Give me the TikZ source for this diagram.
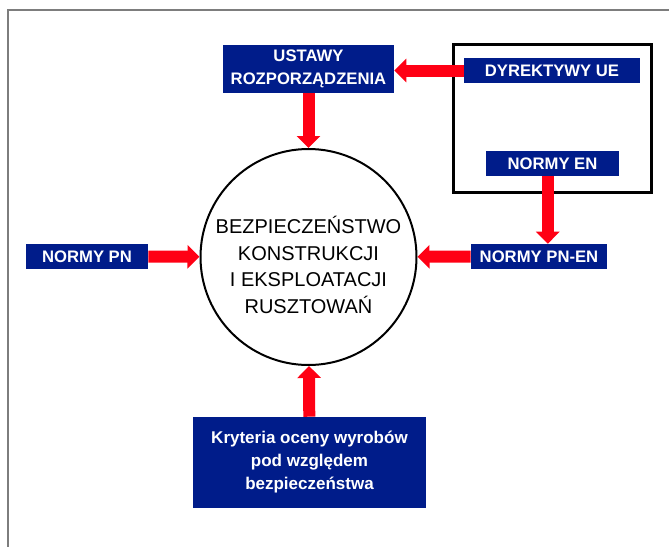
\documentclass[tikz,border=0pt]{standalone}
\usepackage{fontspec}
\setmainfont{Liberation Sans}
\usepackage{xcolor}
\definecolor{mynavy}{RGB}{0,28,138}
\definecolor{myred}{RGB}{255,0,20}
\definecolor{mygray}{RGB}{125,125,125}
\usetikzlibrary{arrows.meta}
\newcommand{\heighttag}{18.75pt}
\newcommand{\sizehub}{162pt}
\tikzset{
    common/.style={fill=mynavy, text=white, inner sep=0pt, align=center,
        font=\bfseries\fontsize{12.5}{17.5}\selectfont},
    tag/.style={common, minimum height=\heighttag},
    bigtag/.style={common, font=\bfseries\fontsize{12.75}{17.25}\selectfont},
    hub/.style={draw, circle, line width=1.5pt, minimum size=\sizehub, inner sep=0pt},
    hubtext/.style={align=center, font=\fontsize{15}{20}\selectfont},
    eubox/.style={draw, line width=2.25pt, inner sep=0pt},
    frame/.style={draw=mygray, line width=1.5pt},
    flow/.style={draw=myred, fill=myred, line width=9pt, -{Triangle[width=17.25pt, length=9pt]}}
}
\begin{document}
\begin{tikzpicture}[x=0.75pt, y=-0.75pt]
    \useasboundingbox (0,0) rectangle (669,547);
    \draw[frame] (8,547) -- (8,10) -- (669,10);

    \node[eubox, minimum width=148.5pt, minimum height=111pt] (eu) at (552.5,118.5) {};
    \node[common, minimum width=128.25pt, minimum height=36pt] (ustawy) at (308.5,69) {USTAWY\\ROZPORZĄDZENIA};
    \node[tag, minimum width=132pt] (dyrektywy) at (552,70.5) {DYREKTYWY UE};
    \node[tag, minimum width=99.75pt] (normyen) at (552.5,163.5) {NORMY EN};
    \node[tag, minimum width=102pt] (normypnen) at (539,256.5) {NORMY PN-EN};
    \node[tag, minimum width=91.5pt] (normypn) at (87,256.5) {NORMY PN};
    \node[hub] (bezp) at (308.5,257) {};
    \node[hubtext] (bezptext) at ([yshift=-6pt]bezp.center) {BEZPIECZEŃSTWO\\KONSTRUKCJI\\I EKSPLOATACJI\\RUSZTOWAŃ};
    \node[bigtag, minimum width=174.75pt, minimum height=68.25pt] (kryteria) at (309.5,462.5) {Kryteria oceny wyrobów\\pod względem\\bezpieczeństwa};

    \draw[flow] (dyrektywy.west) -- (ustawy.east |- dyrektywy.west);
    \draw[flow] (ustawy) -- (bezp);
    \draw[flow] ([xshift=-3.5pt]normyen.south) -- ([xshift=-3.5pt]normyen.south |- normypnen.north);
    \draw[flow] (normypnen) -- (bezp);
    \draw[flow] (normypn) -- (bezp);
    \draw[flow] (kryteria) -- (bezp);
\end{tikzpicture}
\end{document}
